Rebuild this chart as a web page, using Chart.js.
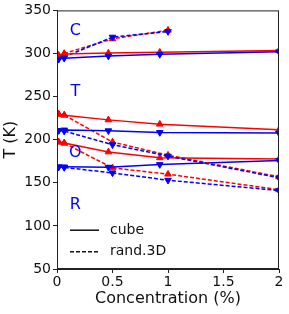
<!DOCTYPE html>
<html>
<head>
<meta charset="utf-8">
<script src="https://cdn.jsdelivr.net/npm/chart.js@4.4.1/dist/chart.umd.min.js"></script>
<style>
  html, body { margin: 0; padding: 0; background: #fff; }
  #wrap { width: 289px; height: 314px; }
</style>
</head>
<body>
<div id="wrap"><canvas id="c" width="289" height="314"></canvas></div>
<script>
// concentraciones (%)
const cubeX = [0.015, 0.065, 0.463, 0.926, 2];
const randX = [0.015, 0.065, 0.5, 1, 2];
const randXC = [0.015, 0.065, 0.5, 1];

// temperaturas (K) - cube
const cubeC_red = [298, 299.5, 300.5, 301.5, 303.5];
const cubeC_blue = [293.5, 294.5, 297, 299, 302];
const cubeT_red = [229.6, 228.5, 223, 218, 211.5];
const cubeT_blue = [210.8, 211.3, 210.4, 208.4, 207.7];
const cubeO_red = [197.3, 196.2, 185.8, 179, 177.5];
const cubeR_blue = [168.5, 168.5, 168.1, 171.2, 176];

// temperaturas (K) - rand.3D
const randC_red = [297, 300, 317, 327];
const randC_blue = [294, 296, 319, 325.5];
const randT_red = [229.6, 228.5, 197.3, 182, 157];
const randT_blue = [210.8, 210, 194.2, 181, 155.8];
const randO_red = [197.3, 196, 167.3, 160, 142];
const randR_blue = [168.5, 167.8, 161.5, 153, 141];

const xTicks = [0, 0.5, 1, 1.5, 2];
const yTicks = [50, 100, 150, 200, 250, 300, 350];
const phaseLabels = ['C', 'T', 'O', 'R'];
const phaseY = [326, 256, 185, 125];
const legendLabels = ['cube', 'rand.3D'];

const RED = '#ff0000';
const BLUE = '#0000ff';
const FONT = "'DejaVu Sans', sans-serif";

function pts(xs, ys) { return ys.map((y, i) => ({ x: xs[i], y })); }

function serie(xs, ys, color, dashed) {
  const up = color === RED;
  return {
    data: pts(xs, ys),
    borderColor: color,
    backgroundColor: color,
    borderWidth: 1.5,
    borderDash: dashed ? [4, 2] : [],
    pointStyle: 'triangle',
    pointRotation: up ? 0 : 180,
    pointRadius: 3.8,
    pointBorderWidth: 1,
    showLine: true,
    tension: 0,
  };
}

const datasets = [
  serie(cubeX, cubeC_blue, BLUE, false),
  serie(cubeX, cubeC_red, RED, false),
  serie(randXC, randC_blue, BLUE, true),
  serie(randXC, randC_red, RED, true),
  serie(cubeX, cubeT_blue, BLUE, false),
  serie(cubeX, cubeT_red, RED, false),
  serie(randX, randT_blue, BLUE, true),
  serie(randX, randT_red, RED, true),
  serie(cubeX, cubeR_blue, BLUE, false),
  serie(cubeX, cubeO_red, RED, false),
  serie(randX, randR_blue, BLUE, true),
  serie(randX, randO_red, RED, true),
];

// marco, etiquetas de fase y leyenda
const extras = {
  id: 'extras',
  afterDatasetsDraw(chart) {
    const { ctx, chartArea: a, scales: { x, y } } = chart;
    ctx.save();
    ctx.strokeStyle = '#222';
    ctx.lineWidth = 1;
    ctx.setLineDash([]);
    ctx.strokeRect(a.left + 0.5, a.top + 0.5, a.right - a.left - 1, a.bottom - a.top - 1);

    ctx.fillStyle = BLUE;
    ctx.font = '16px ' + FONT;
    ctx.textAlign = 'center';
    ctx.textBaseline = 'middle';
    phaseLabels.forEach((t, i) => ctx.fillText(t, x.getPixelForValue(0.165), y.getPixelForValue(phaseY[i])));

    ctx.font = '14px ' + FONT;
    ctx.textAlign = 'left';
    ctx.fillStyle = '#111';
    ctx.strokeStyle = '#111';
    ctx.lineWidth = 1.5;
    const lx0 = a.left + 13, lx1 = a.left + 42;
    const ys = [y.getPixelForValue(95), y.getPixelForValue(70)];
    legendLabels.forEach((t, i) => {
      ctx.setLineDash(i ? [4, 2] : []);
      ctx.beginPath();
      ctx.moveTo(lx0, ys[i]);
      ctx.lineTo(lx1, ys[i]);
      ctx.stroke();
      ctx.fillText(t, a.left + 53, ys[i]);
    });
    ctx.restore();
  },
};

new Chart(document.getElementById('c'), {
  type: 'scatter',
  data: { datasets },
  options: {
    responsive: false,
    animation: false,
    layout: { padding: { left: 0, right: 10, top: 10, bottom: 0 } },
    plugins: { legend: { display: false }, tooltip: { enabled: false } },
    scales: {
      x: {
        type: 'linear', min: 0, max: 2,
        afterBuildTicks: (s) => { s.ticks = xTicks.map((v) => ({ value: v })); },
        afterFit: (s) => { s.height = 45; },
        ticks: { color: '#111', font: { family: FONT, size: 14 }, padding: 1, maxRotation: 0,
          callback: (v) => String(v) },
        grid: { drawOnChartArea: false, drawTicks: true, tickLength: 4, color: '#222' },
        border: { color: '#222', width: 1 },
        title: { display: true, text: 'Concentration (%)', color: '#111',
          font: { family: FONT, size: 16 }, padding: { top: 0, bottom: 6 } },
      },
      y: {
        type: 'linear', min: 50, max: 350,
        afterBuildTicks: (s) => { s.ticks = yTicks.map((v) => ({ value: v })); },
        afterFit: (s) => { s.width = 57; },
        ticks: { color: '#111', font: { family: FONT, size: 14 }, padding: 2 },
        grid: { drawOnChartArea: false, drawTicks: true, tickLength: 4, color: '#222' },
        border: { color: '#222', width: 1 },
        title: { display: true, text: 'T (K)', color: '#111',
          font: { family: FONT, size: 16 }, padding: { top: 1, bottom: 0 } },
      },
    },
  },
  plugins: [extras],
});
</script>
</body>
</html>
